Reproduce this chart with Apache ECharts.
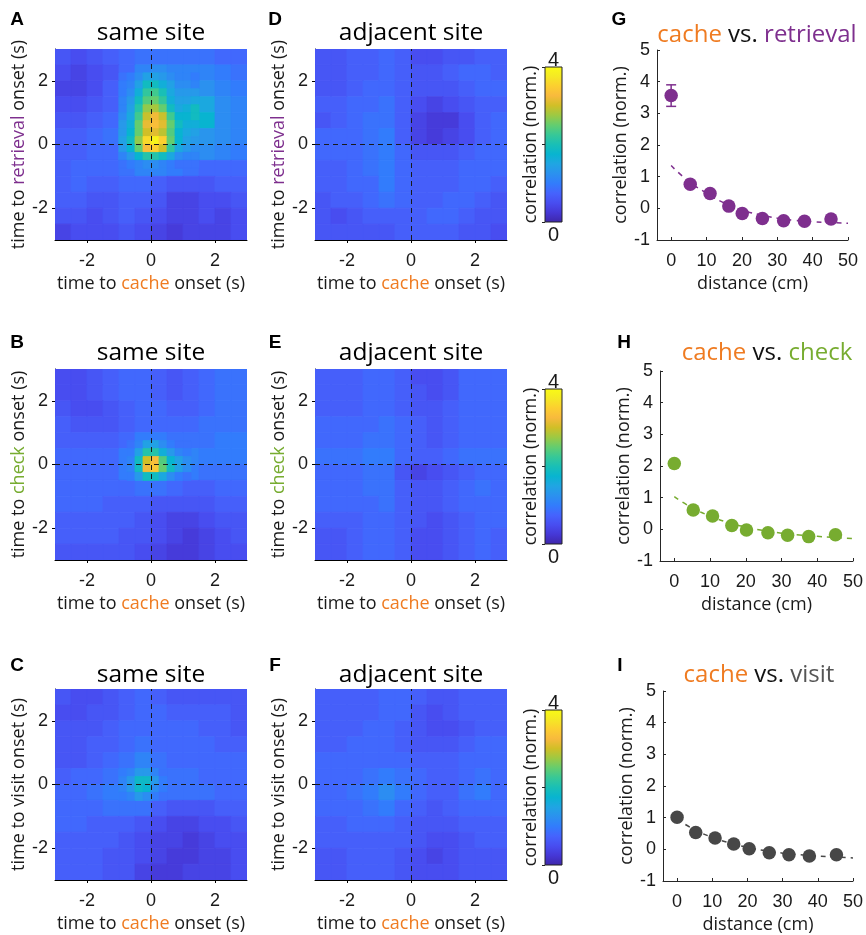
<!DOCTYPE html>
<html><head><meta charset="utf-8">
<script src="https://cdn.jsdelivr.net/npm/echarts@6/dist/echarts.min.js"></script>
<style>html,body{margin:0;padding:0;background:#fff}#c{width:866px;height:935px}</style>
</head><body><div id="c"></div>
<script>
// ---------- heatmap cell centres (s) ----------
const CELL_X = [-2.75,-2.25,-1.75,-1.25,-0.75,-0.25,0.25,0.75,1.25,1.75,2.25,2.75];
const CELL_Y = [2.75,2.25,1.75,1.25,0.75,0.25,-0.25,-0.75,-1.25,-1.75,-2.25,-2.75];

// A: cache vs retrieval, same site (rows top -> bottom)
const HEAT_A = [
 [0.6,0.5,0.6,0.7,0.8,0.9,0.9,0.9,0.9,0.9,0.8,0.8],
 [0.5,0.4,0.5,0.6,0.8,1.1,1.2,1.1,1.1,1.1,1.0,0.9],
 [0.4,0.4,0.5,0.7,1.0,1.75,1.9,1.45,1.3,1.25,1.1,1.0],
 [0.5,0.5,0.6,0.7,1.1,2.3,2.5,1.75,1.55,1.55,1.2,1.1],
 [0.6,0.6,0.7,0.8,1.3,3.0,3.1,2.0,1.75,1.75,1.2,1.1],
 [0.7,0.7,0.8,0.9,1.55,3.2,3.2,2.0,1.55,1.3,1.2,1.1],
 [0.7,0.7,0.8,0.8,1.3,2.5,2.5,1.45,1.2,1.2,1.1,1.0],
 [0.7,0.8,0.8,0.8,0.9,1.1,1.1,1.0,0.9,0.8,0.8,0.8],
 [0.7,0.8,0.7,0.7,0.8,0.8,0.7,0.6,0.6,0.6,0.7,0.7],
 [0.7,0.7,0.6,0.6,0.7,0.7,0.6,0.4,0.4,0.5,0.5,0.6],
 [0.6,0.6,0.5,0.6,0.7,0.6,0.5,0.4,0.4,0.5,0.4,0.5],
 [0.4,0.5,0.5,0.5,0.6,0.5,0.4,0.3,0.4,0.4,0.4,0.5]
];
const A_FINE_X = [-0.875,-0.625,-0.375,-0.125,0.125,0.375,0.625,0.875,1.125,1.375];
const A_FINE_Y = [2.125,1.875,1.625,1.375,1.125,0.875,0.625,0.375,0.125,-0.125,-0.375,-0.625];
const A_FINE = [
 [0.9,1.0,1.2,1.45,1.45,1.35,1.2,1.1,1.1,1.0],
 [1.0,1.1,1.45,1.9,1.9,1.65,1.45,1.2,1.2,1.1],
 [1.0,1.2,1.65,2.2,2.3,2.0,1.55,1.35,1.35,1.35],
 [1.1,1.35,1.9,2.4,2.5,2.2,1.65,1.45,1.45,1.55],
 [1.1,1.45,2.1,2.7,2.8,2.5,1.9,1.55,1.65,1.9],
 [1.2,1.55,2.3,2.95,3.2,2.95,2.3,1.75,1.75,1.9],
 [1.35,1.65,2.5,3.15,3.3,3.1,2.5,1.9,1.65,1.65],
 [1.35,1.75,2.5,3.0,3.1,2.9,2.4,1.75,1.55,1.45],
 [1.45,1.9,2.7,3.6,3.9,3.5,2.5,1.75,1.45,1.35],
 [1.35,1.75,2.5,3.3,3.5,3.0,2.2,1.55,1.35,1.2],
 [1.1,1.35,1.75,2.1,2.1,1.9,1.55,1.2,1.1,1.1],
 [0.9,1.0,1.1,1.2,1.2,1.1,1.0,0.9,0.9,0.9]
];
// B: cache vs check, same site
const HEAT_B = [
 [0.5,0.5,0.6,0.7,0.8,0.8,0.7,0.6,0.7,0.8,0.9,0.9],
 [0.5,0.5,0.6,0.7,0.8,0.8,0.7,0.6,0.7,0.8,0.9,0.9],
 [0.6,0.5,0.5,0.6,0.7,0.8,0.8,0.7,0.7,0.8,0.9,0.9],
 [0.7,0.6,0.6,0.6,0.7,0.8,0.8,0.8,0.8,0.9,0.9,0.9],
 [0.7,0.7,0.7,0.7,0.8,1.0,1.0,0.9,0.9,0.9,1.0,1.0],
 [0.8,0.8,0.8,0.8,1.0,1.7,1.7,1.3,1.1,1.0,1.0,1.0],
 [0.8,0.8,0.8,0.8,1.0,1.6,1.6,1.2,1.0,0.9,0.9,0.9],
 [0.8,0.8,0.8,0.8,0.8,0.9,0.9,0.8,0.7,0.7,0.8,0.8],
 [0.8,0.8,0.8,0.7,0.7,0.7,0.6,0.6,0.6,0.6,0.7,0.7],
 [0.7,0.7,0.7,0.7,0.7,0.6,0.5,0.4,0.4,0.5,0.6,0.6],
 [0.7,0.7,0.7,0.7,0.6,0.6,0.5,0.4,0.3,0.4,0.5,0.6],
 [0.6,0.6,0.6,0.6,0.6,0.5,0.4,0.3,0.3,0.4,0.5,0.5]
];
const B_FINE_X = [-0.625,-0.375,-0.125,0.125,0.375,0.625,0.875,1.125];
const B_FINE_Y = [0.625,0.375,0.125,-0.125,-0.375];
const B_FINE = [
 [0.9,1.1,1.45,1.45,1.2,1.0,0.9,0.9],
 [1.0,1.45,2.1,2.1,1.65,1.35,1.1,1.0],
 [1.1,1.9,3.0,3.3,2.4,1.75,1.45,1.2],
 [1.1,1.9,3.2,3.4,2.5,1.9,1.45,1.2],
 [1.0,1.35,1.9,1.9,1.55,1.2,1.0,0.9]
];
// C: cache vs visit, same site
const HEAT_C = [
 [0.6,0.5,0.5,0.6,0.7,0.8,0.7,0.6,0.6,0.6,0.6,0.6],
 [0.5,0.5,0.6,0.6,0.7,0.8,0.8,0.7,0.7,0.7,0.7,0.6],
 [0.6,0.6,0.6,0.7,0.8,0.8,0.8,0.8,0.8,0.7,0.7,0.6],
 [0.6,0.6,0.7,0.7,0.8,0.9,0.8,0.8,0.8,0.8,0.7,0.7],
 [0.6,0.6,0.7,0.8,0.9,1.1,0.9,0.8,0.8,0.8,0.8,0.8],
 [0.7,0.8,0.8,0.9,1.1,1.3,1.1,0.9,0.9,0.8,0.8,0.8],
 [0.8,0.8,0.9,1.0,1.1,1.3,1.0,0.9,0.9,0.9,0.8,0.8],
 [0.8,0.8,0.8,0.9,0.9,0.9,0.7,0.6,0.6,0.6,0.7,0.7],
 [0.8,0.8,0.7,0.7,0.7,0.6,0.5,0.4,0.4,0.5,0.5,0.6],
 [0.7,0.7,0.7,0.7,0.6,0.5,0.4,0.4,0.3,0.4,0.5,0.5],
 [0.7,0.7,0.7,0.6,0.6,0.5,0.4,0.3,0.3,0.4,0.4,0.5],
 [0.7,0.7,0.7,0.6,0.6,0.4,0.3,0.3,0.4,0.4,0.4,0.5]
];
const C_FINE_X = [-0.875,-0.625,-0.375,-0.125,0.125,0.375];
const C_FINE_Y = [0.375,0.125,-0.125,-0.375];
const C_FINE = [
 [1.0,1.1,1.35,1.35,1.1,0.9],
 [1.1,1.35,1.85,1.85,1.35,1.0],
 [1.1,1.35,1.85,1.75,1.2,1.0],
 [1.0,1.1,1.35,1.2,1.0,0.9]
];
// D, E, F: adjacent site
const HEAT_D = [
 [0.6,0.6,0.7,0.7,0.8,0.7,0.5,0.5,0.6,0.6,0.7,0.7],
 [0.6,0.6,0.7,0.7,0.8,0.7,0.6,0.6,0.7,0.8,0.8,0.7],
 [0.6,0.6,0.7,0.8,0.8,0.7,0.6,0.6,0.6,0.7,0.8,0.8],
 [0.7,0.7,0.8,0.8,0.9,0.7,0.5,0.4,0.5,0.6,0.7,0.7],
 [0.6,0.7,0.8,0.9,0.9,0.7,0.4,0.3,0.3,0.5,0.7,0.8],
 [0.8,0.8,0.8,0.9,1.0,0.7,0.4,0.3,0.4,0.5,0.7,0.8],
 [0.8,0.8,0.8,0.9,1.0,0.8,0.6,0.6,0.6,0.7,0.8,0.8],
 [0.7,0.7,0.8,0.9,1.0,0.8,0.7,0.7,0.7,0.8,0.8,0.8],
 [0.7,0.7,0.8,0.8,1.0,0.8,0.7,0.7,0.7,0.8,0.8,0.7],
 [0.6,0.7,0.7,0.8,0.9,0.8,0.7,0.7,0.8,0.8,0.7,0.6],
 [0.6,0.5,0.6,0.7,0.7,0.7,0.7,0.8,0.8,0.7,0.6,0.6],
 [0.6,0.6,0.6,0.6,0.6,0.7,0.7,0.7,0.7,0.6,0.6,0.5]
];
const HEAT_E = [
 [0.7,0.7,0.7,0.8,0.8,0.7,0.5,0.5,0.6,0.8,0.8,0.8],
 [0.7,0.7,0.7,0.8,0.8,0.7,0.6,0.5,0.6,0.8,0.8,0.8],
 [0.7,0.7,0.7,0.8,0.8,0.7,0.6,0.6,0.7,0.8,0.8,0.8],
 [0.8,0.8,0.8,0.8,0.9,0.8,0.7,0.6,0.7,0.8,0.8,0.8],
 [0.8,0.8,0.8,0.9,0.9,0.8,0.7,0.6,0.7,0.8,0.8,0.8],
 [0.9,0.9,0.9,1.0,1.0,0.8,0.7,0.7,0.8,0.9,0.9,0.9],
 [0.8,0.8,0.8,0.9,0.9,0.6,0.4,0.5,0.6,0.7,0.8,0.8],
 [0.8,0.8,0.8,0.9,0.9,0.7,0.6,0.6,0.7,0.8,0.9,0.8],
 [0.8,0.8,0.8,0.8,0.9,0.7,0.6,0.6,0.7,0.8,0.8,0.8],
 [0.7,0.7,0.7,0.8,0.8,0.7,0.6,0.5,0.6,0.7,0.8,0.8],
 [0.6,0.6,0.7,0.8,0.8,0.7,0.5,0.5,0.6,0.7,0.8,0.7],
 [0.6,0.6,0.7,0.8,0.8,0.7,0.5,0.5,0.6,0.7,0.8,0.7]
];
const HEAT_F = [
 [0.7,0.7,0.7,0.7,0.8,0.8,0.7,0.6,0.6,0.7,0.7,0.7],
 [0.7,0.7,0.7,0.7,0.8,0.8,0.6,0.5,0.6,0.7,0.7,0.7],
 [0.7,0.7,0.7,0.8,0.8,0.7,0.6,0.5,0.5,0.6,0.7,0.7],
 [0.7,0.7,0.8,0.8,0.8,0.7,0.6,0.6,0.6,0.7,0.8,0.8],
 [0.8,0.8,0.8,0.8,0.8,0.8,0.7,0.7,0.7,0.8,0.8,0.8],
 [0.8,0.8,0.8,0.9,1.0,0.9,0.8,0.7,0.7,0.8,0.9,0.8],
 [0.8,0.8,0.9,1.0,1.2,1.0,0.8,0.7,0.7,0.9,1.0,0.8],
 [0.8,0.8,0.8,0.9,1.0,0.8,0.7,0.6,0.7,0.8,0.8,0.8],
 [0.7,0.7,0.8,0.8,0.8,0.7,0.6,0.6,0.6,0.7,0.7,0.7],
 [0.7,0.7,0.7,0.7,0.7,0.7,0.6,0.5,0.5,0.6,0.7,0.7],
 [0.6,0.6,0.7,0.7,0.7,0.6,0.5,0.4,0.5,0.6,0.6,0.6],
 [0.6,0.6,0.7,0.7,0.7,0.6,0.5,0.5,0.5,0.6,0.6,0.6]
];
const HEAT_TICKS = [-2, 0, 2];
const CBAR_RANGE = [0, 4];
const CBAR_LABELS = ['0', '4'];

// ---------- distance panels ----------
const DIST_TICKS = [0, 10, 20, 30, 40, 50];
const G_X = [0, 5.4, 11.0, 16.3, 20.1, 25.8, 31.8, 37.7, 45.2];
const G_Y = [3.56, 0.76, 0.47, 0.07, -0.16, -0.32, -0.39, -0.41, -0.34];
const G_ERR_X = [0];
const G_ERR_LOW = [3.22];
const G_ERR_HIGH = [3.9];
const H_X = [0, 5.3, 10.7, 16.1, 20.2, 26.2, 31.7, 37.6, 45.1];
const H_Y = [2.08, 0.61, 0.42, 0.12, -0.02, -0.11, -0.19, -0.23, -0.17];
const I_X = [0, 5.3, 10.8, 16.1, 20.5, 26.2, 31.8, 37.6, 45.3];
const I_Y = [1.01, 0.53, 0.36, 0.17, 0.02, -0.11, -0.17, -0.21, -0.17];
const FIT_X = [0, 5, 10, 15, 20, 25, 30, 35, 40, 45, 50];
const G_FIT = [1.35, 0.85, 0.48, 0.17, -0.05, -0.2, -0.31, -0.38, -0.42, -0.45, -0.47];
const H_FIT = [1.03, 0.68, 0.42, 0.22, 0.07, -0.04, -0.12, -0.18, -0.22, -0.26, -0.29];
const I_FIT = [0.95, 0.62, 0.38, 0.2, 0.06, -0.04, -0.12, -0.17, -0.21, -0.24, -0.27];

// ---------- styles ----------
const PARULA = ['#3e26a8','#4537d5','#484df0','#4563fd','#327cfc','#2b91ef','#20a5e3','#08b4d0','#19bfb6',
                '#37c897','#64cd6f','#9dc943','#d1bf27','#f8ba3d','#fccf30','#f5e924','#f9fb15'];
const ORANGE = '#ef7b21', PURPLE = '#7e2f8e', GREEN = '#77ac30', GREY = '#474747';
const TXT = '#1a1a1a';
const SANS = '"Open Sans", "Noto Sans", sans-serif';
const ARIAL = '"Liberation Sans", Arial, sans-serif';

const grids = [], xAxes = [], yAxes = [], series = [], graphics = [];
const heatSeriesIdx = [];

function toCells(X, Y, M) {
  const out = [];
  for (let r = 0; r < Y.length; r++) for (let c = 0; c < X.length; c++) out.push([X[c], Y[r], M[r][c]]);
  return out;
}
function cellRenderer(step) {
  return function (params, api) {
    const x = api.value(0), y = api.value(1);
    const p0 = api.coord([x - step / 2, y + step / 2]);
    const p1 = api.coord([x + step / 2, y - step / 2]);
    const col = api.visual('color');
    return { type: 'rect', shape: { x: p0[0], y: p0[1], width: p1[0] - p0[0], height: p1[1] - p0[1] },
      style: { fill: col, stroke: col, lineWidth: 0.8 } };
  };
}
function richName(parts, size) {
  const rich = {}; let s = '';
  parts.forEach((p, i) => { rich['t' + i] = { color: p[1], fontSize: size, fontFamily: SANS }; s += '{t' + i + '|' + p[0] + '}'; });
  return { name: s, rich };
}

function addHeat(left, top, coarse, fine, yWord, yColor) {
  const gi = grids.length;
  grids.push({ left, top, width: 192, height: 191 });
  const xn = richName([['time to ', TXT], ['cache', ORANGE], [' onset (s)', TXT]], 18);
  const yn = richName([['time to ', TXT], [yWord, yColor], [' onset (s)', TXT]], 18);
  const xi = xAxes.length, yi = yAxes.length;
  xAxes.push({ gridIndex: gi, type: 'value', min: -3, max: 3,
    axisLine: { onZero: false, lineStyle: { color: '#000', width: 1 } },
    axisTick: { customValues: HEAT_TICKS, length: 3, lineStyle: { color: '#000' } },
    axisLabel: { customValues: HEAT_TICKS, color: TXT, fontSize: 18, fontFamily: ARIAL, margin: 12 },
    splitLine: { show: false },
    name: xn.name, nameLocation: 'middle', nameGap: 35, nameTextStyle: { rich: xn.rich } });
  yAxes.push({ gridIndex: gi, type: 'value', min: -3, max: 3,
    axisLine: { onZero: false, lineStyle: { color: '#000', width: 1 } },
    axisTick: { customValues: HEAT_TICKS, length: 3, lineStyle: { color: '#000' } },
    axisLabel: { customValues: HEAT_TICKS, color: TXT, fontSize: 18, fontFamily: ARIAL, margin: 7 },
    splitLine: { show: false },
    name: yn.name, nameLocation: 'middle', nameRotate: 90, nameGap: 26, nameTextStyle: { rich: yn.rich } });
  const layers = [[CELL_X, CELL_Y, coarse]].concat(fine ? [fine] : []);
  layers.forEach((L, k) => {
    heatSeriesIdx.push(series.length);
    const s = { type: 'custom', xAxisIndex: xi, yAxisIndex: yi, clip: true, z: 2,
      renderItem: cellRenderer(L[0][1] - L[0][0]), dimensions: ['x', 'y', 'v'], encode: { x: 0, y: 1 },
      data: toCells(L[0], L[1], L[2]), animation: false };
    if (k === layers.length - 1) {
      s.markLine = { silent: true, symbol: 'none', label: { show: false }, animation: false,
        lineStyle: { type: [5, 4], color: '#1a1a1a', width: 1 }, data: [{ xAxis: 0 }, { yAxis: 0 }] };
    }
    series.push(s);
  });
}

function addCbar(top) {
  const gi = grids.length;
  grids.push({ left: 545, top, width: 17, height: 155 });
  const xb = xAxes.length;
  xAxes.push({ gridIndex: gi, type: 'value', min: 0, max: 1, position: 'bottom',
    axisLine: { show: false }, axisTick: { show: false }, axisLabel: { show: false }, splitLine: { show: false },
    name: CBAR_LABELS[0], nameLocation: 'middle', nameGap: 3, nameTextStyle: { color: TXT, fontSize: 20, fontFamily: ARIAL, verticalAlign: 'top' } });
  xAxes.push({ gridIndex: gi, type: 'value', min: 0, max: 1, position: 'top',
    axisLine: { show: false }, axisTick: { show: false }, axisLabel: { show: false }, splitLine: { show: false },
    name: CBAR_LABELS[1], nameLocation: 'middle', nameGap: -3, nameTextStyle: { color: TXT, fontSize: 20, fontFamily: ARIAL, verticalAlign: 'bottom' } });
  const yl = yAxes.length;
  yAxes.push({ gridIndex: gi, type: 'value', min: CBAR_RANGE[0], max: CBAR_RANGE[1], position: 'left',
    axisLine: { show: false }, axisTick: { show: false }, axisLabel: { show: false }, splitLine: { show: false },
    name: 'correlation (norm.)', nameLocation: 'middle', nameRotate: 90, nameGap: 5,
    nameTextStyle: { color: TXT, fontSize: 18, fontFamily: SANS } });
  yAxes.push({ gridIndex: gi, type: 'value', min: CBAR_RANGE[0], max: CBAR_RANGE[1], interval: 2, position: 'right',
    axisLine: { show: false }, axisTick: { inside: true, length: 3, lineStyle: { color: '#222' } },
    axisLabel: { show: false }, splitLine: { show: false } });
  const n = PARULA.length - 1;
  const stops = PARULA.map((c, i) => ({ offset: 1 - i / n, color: c })).reverse();
  series.push({ type: 'custom', xAxisIndex: xb, yAxisIndex: yl + 1, z: 2, animation: false,
    data: [[CBAR_RANGE[0], CBAR_RANGE[1]]],
    renderItem: function (params, api) {
      const p0 = api.coord([0, api.value(1)]), p1 = api.coord([1, api.value(0)]);
      return { type: 'rect', shape: { x: p0[0], y: p0[1], width: p1[0] - p0[0], height: p1[1] - p0[1] },
        style: { fill: { type: 'linear', x: 0, y: 0, x2: 0, y2: 1, colorStops: stops }, stroke: '#222', lineWidth: 1 } };
    } });
}

function addDist(box, X, Y, FIT, color, err) {
  const gi = grids.length;
  grids.push({ left: box[0], top: box[1], width: box[2], height: box[3] });
  const xi = xAxes.length, yi = yAxes.length;
  xAxes.push({ gridIndex: gi, type: 'value', min: -4, max: 50,
    axisLine: { onZero: false, lineStyle: { color: '#262626', width: 1 } },
    axisTick: { customValues: DIST_TICKS, inside: true, length: 3, lineStyle: { color: '#262626' } },
    axisLabel: { customValues: DIST_TICKS, color: TXT, fontSize: 18, fontFamily: ARIAL, margin: 12 },
    splitLine: { show: false },
    name: 'distance (cm)', nameLocation: 'middle', nameGap: 35, nameTextStyle: { color: TXT, fontSize: 18, fontFamily: SANS } });
  yAxes.push({ gridIndex: gi, type: 'value', min: -1, max: 5, interval: 1,
    axisLine: { onZero: false, lineStyle: { color: '#262626', width: 1 } },
    axisTick: { inside: true, length: 3, lineStyle: { color: '#262626' } },
    axisLabel: { color: TXT, fontSize: 18, fontFamily: ARIAL, margin: 7 },
    splitLine: { show: false },
    name: 'correlation (norm.)', nameLocation: 'middle', nameRotate: 90, nameGap: 20, nameTextStyle: { color: TXT, fontSize: 18, fontFamily: SANS } });
  series.push({ type: 'line', xAxisIndex: xi, yAxisIndex: yi, z: 2, smooth: true, showSymbol: false, symbol: 'none', animation: false,
    lineStyle: { color, width: 1.5, type: [5, 5] }, data: FIT_X.map((x, i) => [x, FIT[i]]) });
  if (err) {
    series.push({ type: 'custom', xAxisIndex: xi, yAxisIndex: yi, z: 3, animation: false,
      data: err[0].map((x, i) => [x, err[1][i], err[2][i]]),
      renderItem: function (params, api) {
        const lo = api.coord([api.value(0), api.value(1)]), hi = api.coord([api.value(0), api.value(2)]);
        const w = 5, st = { stroke: color, lineWidth: 1.5 };
        return { type: 'group', children: [
          { type: 'line', shape: { x1: lo[0], y1: lo[1], x2: hi[0], y2: hi[1] }, style: st },
          { type: 'line', shape: { x1: lo[0] - w, y1: lo[1], x2: lo[0] + w, y2: lo[1] }, style: st },
          { type: 'line', shape: { x1: hi[0] - w, y1: hi[1], x2: hi[0] + w, y2: hi[1] }, style: st } ] };
      } });
  }
  series.push({ type: 'scatter', xAxisIndex: xi, yAxisIndex: yi, z: 4, symbolSize: 13.5, animation: false,
    itemStyle: { color, opacity: 1 }, data: X.map((x, i) => [x, Y[i]]) });
}

const ROW_TOP = [49, 369, 689];
addHeat(55, ROW_TOP[0], HEAT_A, [A_FINE_X, A_FINE_Y, A_FINE], 'retrieval', PURPLE);
addHeat(315, ROW_TOP[0], HEAT_D, null, 'retrieval', PURPLE);
addHeat(55, ROW_TOP[1], HEAT_B, [B_FINE_X, B_FINE_Y, B_FINE], 'check', GREEN);
addHeat(315, ROW_TOP[1], HEAT_E, null, 'check', GREEN);
addHeat(55, ROW_TOP[2], HEAT_C, [C_FINE_X, C_FINE_Y, C_FINE], 'visit', TXT);
addHeat(315, ROW_TOP[2], HEAT_F, null, 'visit', TXT);
addCbar(67); addCbar(389); addCbar(710);
addDist([657, 50, 191, 190], G_X, G_Y, G_FIT, PURPLE, [G_ERR_X, G_ERR_LOW, G_ERR_HIGH]);
addDist([660, 371, 193, 190], H_X, H_Y, H_FIT, GREEN, null);
addDist([663, 691, 190, 190], I_X, I_Y, I_FIT, GREY, null);

function txt(x, y, text, size, family, weight, color) {
  graphics.push({ type: 'text', x, y, silent: true, z: 10,
    style: { text, fontSize: size, fontFamily: family, fontWeight: weight || 'normal', fill: color || TXT, align: 'center', verticalAlign: 'middle' } });
}
function richTitle(x, y, parts) {
  const rich = {}; let s = '';
  parts.forEach((p, i) => { rich['t' + i] = { fill: p[1], fontSize: 24, fontFamily: SANS }; s += '{t' + i + '|' + p[0] + '}'; });
  graphics.push({ type: 'text', x, y, silent: true, z: 10, style: { text: s, rich, align: 'center', verticalAlign: 'middle' } });
}
const LETTER_POS = [['A', 17, 20], ['D', 275, 20], ['G', 619, 20], ['B', 17, 343], ['E', 275, 343], ['H', 624, 343], ['C', 17, 666], ['F', 275, 666], ['I', 620, 666]];
LETTER_POS.forEach(l => txt(l[1], l[2], l[0], 19, ARIAL, 'bold', '#000'));
[33, 353, 675].forEach(y => { txt(151, y, 'same site', 24.5, SANS, 'normal', '#000'); txt(411, y, 'adjacent site', 24.5, SANS, 'normal', '#000'); });
richTitle(757, 35, [['cache', ORANGE], [' vs. ', '#111'], ['retrieval', PURPLE]]);
richTitle(767, 353, [['cache', ORANGE], [' vs. ', '#111'], ['check', GREEN]]);
richTitle(759, 675, [['cache', ORANGE], [' vs. ', '#111'], ['visit', '#555']]);

const chart = echarts.init(document.getElementById('c'), null, { renderer: 'canvas' });
chart.setOption({
  animation: false,
  backgroundColor: '#fff',
  grid: grids, xAxis: xAxes, yAxis: yAxes, series,
  visualMap: [{ type: 'continuous', show: false, min: CBAR_RANGE[0], max: CBAR_RANGE[1], dimension: 2,
    seriesIndex: heatSeriesIdx, inRange: { color: PARULA } }],
  graphic: graphics
});
</script></body></html>
